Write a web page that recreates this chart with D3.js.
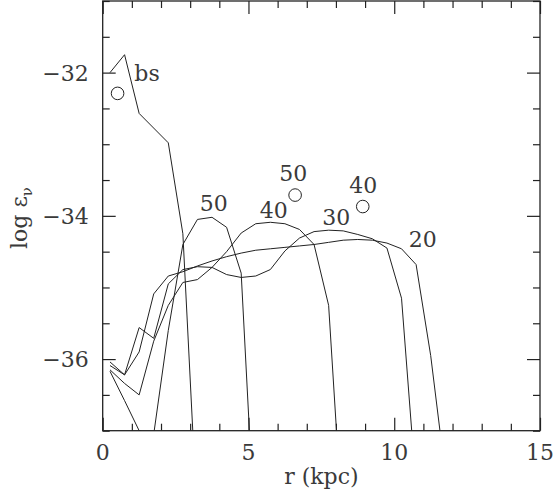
<!DOCTYPE html>
<html><head><meta charset="utf-8">
<script src="https://cdn.jsdelivr.net/npm/d3@7"></script>
<style>html,body{margin:0;padding:0;background:#fff;}</style>
</head><body>
<svg id="chart" width="554" height="494"></svg>
<script>
// ---- data ----
const rGrid = [0.25,0.75,1.25,1.75,2.25,2.75,3.25,3.75,4.25,4.75,5.25,5.75,6.25,6.75,7.25,7.75,8.25,8.75,9.25,9.75,10.25,10.75,11.25,11.75];
const bsR   = [0.25, 0.75, 1.25, 2.25, 2.75, 3.25];
const bsV   = [-32.0, -31.75, -32.57, -32.98, -34.25, -38.3];
const v50 = [-36.17,-36.58,-37.0,-37.05,-35.6,-34.4,-34.05,-34.02,-34.16,-34.8,-38.7];
const v40 = [-36.15,-36.34,-36.5,-35.75,-35.25,-34.93,-34.89,-34.72,-34.5,-34.24,-34.11,-34.09,-34.11,-34.19,-34.4,-35.25,-38.5];
const v30 = [-36.04,-36.22,-35.56,-35.71,-34.95,-34.75,-34.71,-34.72,-34.82,-34.86,-34.84,-34.75,-34.49,-34.31,-34.22,-34.2,-34.21,-34.26,-34.32,-34.45,-35.15,-37.8];
const v20 = [-36.09,-36.22,-35.9,-35.09,-34.84,-34.78,-34.7,-34.63,-34.57,-34.52,-34.48,-34.46,-34.44,-34.42,-34.4,-34.37,-34.34,-34.33,-34.34,-34.38,-34.46,-34.68,-35.95,-37.6];
const obsR = [0.51, 6.6, 8.92];
const obsV = [-32.29, -33.71, -33.87];
const labelText = ["bs","50","40","50","40","30","20"];
const labelR    = [1.52, 3.81, 5.87, 6.54, 8.94, 8.01, 10.98];
const labelV    = [-32.12, -33.93, -34.03, -33.51, -33.68, -34.13, -34.43];
const xTicksMajor = [0,5,10,15];
const yTicksMajor = [-36,-34,-32];

// ---- layout ----
const svg = d3.select("#chart");
const L = 102.7, R = 540, T = 1, B = 430.7;
const x = d3.scaleLinear().domain([0,15]).range([L,R]);
const y = d3.scaleLinear().domain([-37,-31]).range([B,T]);
const font = "DejaVu Serif";
const ink = "#222";
const txt = "#3a3a3a";

svg.append("clipPath").attr("id","clip").append("rect")
  .attr("x",L).attr("y",T).attr("width",R-L).attr("height",B-T);

const series = [
  bsR.map((r,i)=>[r,bsV[i]]),
  v50.map((v,i)=>[rGrid[i],v]),
  v40.map((v,i)=>[rGrid[i],v]),
  v30.map((v,i)=>[rGrid[i],v]),
  v20.map((v,i)=>[rGrid[i],v])
];
const line = d3.line().x(d=>x(d[0])).y(d=>y(d[1]));
svg.append("g").attr("clip-path","url(#clip)")
  .selectAll("path").data(series).join("path")
  .attr("d",line).attr("fill","none").attr("stroke",ink).attr("stroke-width",1);

// axes with ticks on all four sides
function ax(gen, tr, vals, len){
  const g = svg.append("g").attr("transform",tr)
    .call(gen.tickValues(vals).tickSize(len).tickFormat(""));
  g.select(".domain").remove();
  g.selectAll("line").attr("stroke",ink).attr("stroke-width",1.2);
  return g;
}
const xMinor = d3.range(0,16,1).filter(v=>v%5!==0);
const yMinor = d3.range(-37,-30.9,0.5).filter(v=>Math.abs(v%2)!==0);
ax(d3.axisTop(x), `translate(0,${B})`, xMinor, 7);
ax(d3.axisTop(x), `translate(0,${B})`, xTicksMajor, 13);
ax(d3.axisBottom(x), `translate(0,${T})`, xMinor, 7);
ax(d3.axisBottom(x), `translate(0,${T})`, xTicksMajor, 13);
ax(d3.axisRight(y), `translate(${L},0)`, yMinor, 7);
ax(d3.axisRight(y), `translate(${L},0)`, yTicksMajor, 13);
ax(d3.axisLeft(y), `translate(${R},0)`, yMinor, 7);
ax(d3.axisLeft(y), `translate(${R},0)`, yTicksMajor, 13);

svg.append("rect").attr("x",L).attr("y",T).attr("width",R-L).attr("height",B-T)
  .attr("fill","none").attr("stroke",ink).attr("stroke-width",1.3);

// tick labels
svg.append("g").selectAll("text").data(xTicksMajor).join("text")
  .attr("x",d=>x(d)).attr("y",B+29).attr("text-anchor","middle")
  .attr("font-family",font).attr("font-size",22).attr("fill",txt).text(d=>d);
svg.append("g").selectAll("text").data(yTicksMajor).join("text")
  .attr("x",L-14).attr("y",d=>y(d)+8).attr("text-anchor","end")
  .attr("font-family",font).attr("font-size",22).attr("fill",txt)
  .text(d=>"\u2212"+Math.abs(d));

// axis titles
svg.append("text").attr("x",(L+R)/2).attr("y",484).attr("text-anchor","middle")
  .attr("font-family",font).attr("font-size",22).attr("fill",txt)
  .attr("xml:space","preserve").text("r (kpc)");
const yl = svg.append("text").attr("transform","translate(27,218) rotate(-90)")
  .attr("text-anchor","middle").attr("font-family",font).attr("font-size",22).attr("fill",txt);
yl.append("tspan").text("log \u03b5");
yl.append("tspan").attr("font-size",15).attr("dy",5).text("\u03bd");

// observed points
svg.append("g").selectAll("circle").data(obsR).join("circle")
  .attr("cx",d=>x(d)).attr("cy",(d,i)=>y(obsV[i])).attr("r",6.3)
  .attr("fill","none").attr("stroke",ink).attr("stroke-width",1);

// curve labels
svg.append("g").selectAll("text").data(labelText).join("text")
  .attr("x",(d,i)=>x(labelR[i])).attr("y",(d,i)=>y(labelV[i]))
  .attr("text-anchor","middle").attr("font-family",font).attr("font-size",22)
  .attr("fill",txt).text(d=>d);
</script>
</body></html>
